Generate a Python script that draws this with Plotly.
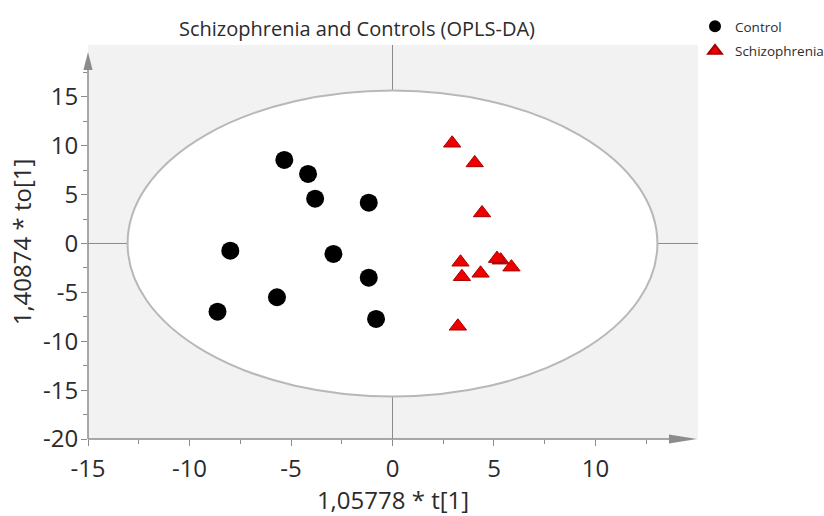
import plotly.graph_objects as go

# OPLS-DA score coordinates
control_t = [-5.33, -4.16, -3.81, -1.17, -7.99, -2.91, -1.17, -5.69, -8.62, -0.81]
control_to = [8.54, 7.11, 4.58, 4.17, -0.74, -1.07, -3.50, -5.50, -6.98, -7.72]

schizo_t = [2.94, 4.05, 4.41, 3.35, 3.42, 4.34, 5.33, 5.15, 5.86, 3.22]
schizo_to = [10.25, 8.24, 3.12, -1.92, -3.40, -3.05, -1.71, -1.55, -2.42, -8.47]

# Hotelling T2 ellipse semi-axes
ellipse_a = 13.05
ellipse_b = 15.65

x_ticks = [-15, -10, -5, 0, 5, 10]
x_labels = ["-15", "-10", "-5", "0", "5", "10"]
x_minor = [-12.5, -7.5, -2.5, 2.5, 7.5, 12.5]
y_ticks = [-20, -15, -10, -5, 0, 5, 10, 15]
y_labels = ["-20", "-15", "-10", "-5", "0", "5", "10", "15"]
y_minor = [-17.5, -12.5, -7.5, -2.5, 2.5, 7.5, 12.5, 17.5]

x_range = [-15, 15.05]
y_range = [-20, 20.3]

FONT = "Open Sans"
TXT = "#2b2b2b"
AXIS = "#8c8c8c"

fig = go.Figure()

fig.add_trace(go.Scatter(
    x=control_t, y=control_to, mode="markers", name="Control",
    legendgroup="c",
    marker=dict(symbol="circle", size=18, color="#000000",
                line=dict(width=0)),
))
fig.add_trace(go.Scatter(
    x=schizo_t, y=schizo_to, mode="markers", name="Schizophrenia",
    legendgroup="s",
    marker=dict(symbol="triangle-up", size=15, color="#ee0000",
                line=dict(width=1, color="#a80000")),
))

shapes = [
    # confidence ellipse
    dict(type="circle", xref="x", yref="y", layer="below",
         x0=-ellipse_a, x1=ellipse_a, y0=-ellipse_b, y1=ellipse_b,
         fillcolor="white", line=dict(color="#b8b8b8", width=2)),
    # origin cross-hair
    dict(type="line", xref="x", yref="paper", layer="below",
         x0=0, x1=0, y0=0, y1=1, line=dict(color="#8a8a8a", width=1)),
    dict(type="line", xref="paper", yref="y", layer="below",
         x0=0, x1=1, y0=0, y1=0, line=dict(color="#8a8a8a", width=1)),
    # axis lines
    dict(type="line", xref="paper", yref="paper",
         x0=0, x1=0, y0=0, y1=0.95, line=dict(color=AXIS, width=1.5)),
    dict(type="line", xref="paper", yref="paper",
         x0=0, x1=0.97, y0=0, y1=0, line=dict(color=AXIS, width=1.5)),
    # arrow heads
    dict(type="path", xref="paper", yref="paper",
         path="M -0.0075,0.9365 L 0.0075,0.9365 L 0,0.982 Z",
         fillcolor=AXIS, line=dict(color=AXIS, width=0)),
    dict(type="path", xref="paper", yref="paper",
         path="M 0.9525,-0.0115 L 0.9525,0.0115 L 0.9984,0 Z",
         fillcolor=AXIS, line=dict(color=AXIS, width=0)),
]

fig.update_layout(
    width=824, height=516,
    margin=dict(l=88, r=126, t=45, b=77, autoexpand=False),
    paper_bgcolor="white",
    plot_bgcolor="#f2f2f2",
    font=dict(family=FONT, color=TXT),
    title=dict(text="Schizophrenia and Controls (OPLS-DA)",
               xref="container", x=357 / 824, xanchor="center",
               yref="container", y=1 - 29 / 516, yanchor="middle",
               font=dict(size=20, color=TXT, family=FONT)),
    shapes=shapes,
    showlegend=True,
    legend=dict(xref="container", x=695 / 824, xanchor="left",
                yref="container", y=1 - 11 / 516, yanchor="top",
                font=dict(size=13.5, color=TXT, family=FONT),
                itemsizing="constant", tracegroupgap=4,
                bgcolor="rgba(0,0,0,0)"),
)

fig.update_xaxes(
    range=x_range, showgrid=False, zeroline=False, showline=False,
    tickmode="array", tickvals=x_ticks, ticktext=x_labels,
    ticks="outside", ticklen=6,
    tickcolor=AXIS, tickwidth=1, ticklabelstandoff=2,
    tickfont=dict(size=24, color=TXT, family=FONT),
    minor=dict(tickmode="array", tickvals=x_minor, ticks="outside",
               ticklen=4, tickcolor=AXIS, showgrid=False),
    title=dict(text="1,05778 * t[1]", font=dict(size=24, color=TXT, family=FONT),
               standoff=0),
)
fig.update_yaxes(
    range=y_range, showgrid=False, zeroline=False, showline=False,
    tickmode="array", tickvals=y_ticks, ticktext=y_labels,
    ticks="outside", ticklen=6,
    tickcolor=AXIS, tickwidth=1, ticklabelstandoff=-2,
    tickfont=dict(size=24, color=TXT, family=FONT),
    minor=dict(tickmode="array", tickvals=y_minor, ticks="outside",
               ticklen=4, tickcolor=AXIS, showgrid=False),
    title=dict(text="1,40874 * to[1]", font=dict(size=24, color=TXT, family=FONT),
               standoff=4),
)

fig.write_html("out.html")
